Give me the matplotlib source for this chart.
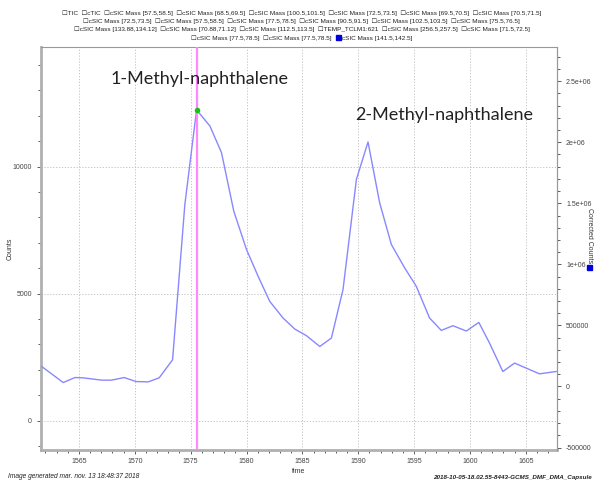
import matplotlib
matplotlib.use("Agg")
import matplotlib.pyplot as plt
from matplotlib.offsetbox import TextArea, HPacker, VPacker, AnchoredOffsetbox, DrawingArea
from matplotlib.patches import Rectangle
from matplotlib.ticker import MultipleLocator

# ---- data ----
time = [1561.66, 1563.59, 1564.64, 1565.38, 1567.03, 1567.92, 1569.05, 1570.10,
        1571.20, 1572.18, 1573.38, 1574.48, 1575.53, 1576.72, 1577.76, 1578.86,
        1580.00, 1581.04, 1582.08, 1583.27, 1584.32, 1585.37, 1586.56, 1587.60,
        1588.64, 1589.84, 1590.88, 1591.92, 1592.97, 1594.16, 1595.20, 1596.39,
        1597.44, 1598.48, 1599.68, 1600.80, 1601.76, 1602.95, 1604.00, 1605.04,
        1606.23, 1607.73]
counts = [2131, 1500, 1697, 1685, 1594, 1594, 1697, 1539,
          1527, 1685, 2395, 8512, 12234, 11602, 10552, 8248,
          6736, 5683, 4696, 4041, 3607, 3343, 2920, 3252,
          5158, 9499, 10971, 8579, 6934, 6014, 5288, 4041,
          3552, 3737, 3528, 3867, 3054, 1934, 2265, 2068,
          1843, 1934]
marker_time = 1575.53
marker_counts = 12234
peak_labels = ["1-Methyl-naphthalene", "2-Methyl-naphthalene"]
peak_label_x = [1575.82, 1597.74]
peak_label_y = [13445, 12025]

legend_line1 = ["TIC", "cTIC", "cSIC Mass [57.5,58.5]", "cSIC Mass [68.5,69.5]",
                "cSIC Mass [100.5,101.5]", "cSIC Mass [72.5,73.5]",
                "cSIC Mass [69.5,70.5]", "cSIC Mass [70.5,71.5]"]
legend_line2 = ["cSIC Mass [72.5,73.5]", "cSIC Mass [57.5,58.5]", "cSIC Mass [77.5,78.5]",
                "cSIC Mass [90.5,91.5]", "cSIC Mass [102.5,103.5]", "cSIC Mass [75.5,76.5]"]
legend_line3 = ["cSIC Mass [133.88,134.12]", "cSIC Mass [70.88,71.12]",
                "cSIC Mass [112.5,113.5]", "TEMP_TCLM1:621",
                "cSIC Mass [256.5,257.5]", "cSIC Mass [71.5,72.5]"]
legend_line4 = ["cSIC Mass [77.5,78.5]", "cSIC Mass [77.5,78.5]"]
legend_selected = "cSIC Mass [141.5,142.5]"

x_ticks = [1565, 1570, 1575, 1580, 1585, 1590, 1595, 1600, 1605]
left_ticks = [0, 5000, 10000]
right_ticks = [-500000, 0, 500000, 1000000, 1500000, 2000000, 2500000]
right_tick_labels = ["-500000", "0", "500000", "1e+06", "1.5e+06", "2e+06", "2.5e+06"]

fam = ["Liberation Sans", "DejaVu Sans"]
plt.rcParams['font.family'] = fam

fig = plt.figure(figsize=(5.95, 4.8), dpi=100)
ax = fig.add_axes([41/595, 1-450/480, (557-41)/595, (450-47)/480])

ax.plot(time, counts, color="#8888ff", lw=1.0, zorder=3)
ax.axvline(marker_time, color="#ff88ff", lw=1.6, zorder=4)
ax.plot([marker_time], [marker_counts], "o", color="#22bb22", ms=3, zorder=5)

for lab, lx, ly in zip(peak_labels, peak_label_x, peak_label_y):
    ax.text(lx, ly, lab, ha="center", va="center", fontsize=13,
            family=["Lato", "DejaVu Sans"], color="#222222", zorder=6)

ax.set_xlim(1561.6, 1607.8)
ax.set_ylim(-1156, 14710)
ax.set_xticks(x_ticks)
ax.set_yticks(left_ticks)
ax.xaxis.set_minor_locator(MultipleLocator(1))
ax.yaxis.set_minor_locator(MultipleLocator(1000))
ax.grid(True, which="major", color="#bbbbbb", ls=(0, (1.5, 2)), lw=0.6)
ax.tick_params(axis="both", which="both", labelsize=5, colors="#444444",
               direction="out", width=0.6)
ax.tick_params(which="major", length=3)
ax.tick_params(which="minor", length=2)
ax.tick_params(axis="x", pad=3)
for s in ["left", "bottom"]:
    ax.spines[s].set_color("#b0b0b0")
    ax.spines[s].set_linewidth(2.0)
for s in ["top", "right"]:
    ax.spines[s].set_color("#999999")
    ax.spines[s].set_linewidth(0.8)
ax.set_xlabel("time", fontsize=5, color="#333333", labelpad=2)
ax.set_ylabel("Counts", fontsize=5, color="#333333")
ax.yaxis.set_label_coords((14-41)/516, 0.5)

ax2 = ax.twinx()
ax2.set_ylim(-520000, 2780000)
ax2.set_yticks(right_ticks)
ax2.set_yticklabels(right_tick_labels)
ax2.yaxis.set_minor_locator(MultipleLocator(100000))
ax2.tick_params(axis="y", which="both", labelsize=5, colors="#444444", width=0.6)
ax2.tick_params(which="major", length=3)
ax2.tick_params(which="minor", length=2)
for s in ax2.spines.values():
    s.set_visible(False)
ax2.spines["right"].set_visible(True)
ax2.spines["right"].set_color("#999999")
ax2.spines["right"].set_linewidth(0.8)

fig.text(589/595, 1-236/480, "Corrected Counts", rotation=270, fontsize=5,
         color="#333333", ha="center", va="center")
fig.patches.append(Rectangle((586.5/595, 1-270/480), 5/595, 5/480,
                             transform=fig.transFigure, color="#0000dd"))

# ---- legend-like header ----
fs = 4.6
def box_items(items, extra=None):
    parts = []
    txt = "  ".join("\u2610" + it for it in items)
    if extra is not None:
        txt += "  "
    parts.append(TextArea(txt, textprops=dict(fontsize=fs, color="#222222", family=fam)))
    if extra is not None:
        da = DrawingArea(3.6, 3.6, 0, 0)
        da.add_artist(Rectangle((0, 0), 3.6, 3.6, color="#0000dd"))
        parts.append(da)
        parts.append(TextArea(extra, textprops=dict(fontsize=fs, color="#222222", family=fam)))
    return HPacker(children=parts, align="baseline", pad=0, sep=0.6)

rows = [box_items(legend_line1), box_items(legend_line2),
        box_items(legend_line3), box_items(legend_line4, legend_selected)]
vp = VPacker(children=rows, align="center", pad=0, sep=1.9)
ab = AnchoredOffsetbox(loc="upper center", child=vp, frameon=False,
                       bbox_to_anchor=(0.507, 1 - 10/480), bbox_transform=fig.transFigure,
                       borderpad=0, pad=0)
fig.add_artist(ab)

fig.text(8/595, 1-477/480, "Image generated mar. nov. 13 18:48:37 2018",
         fontsize=4.8, style="italic", color="#222222", ha="left", va="center")
fig.text(433/595, 1-477/480, "2018-10-05-18.02.55-8443-GCMS_DMF_DMA_Capsule",
         fontsize=4.5, style="italic", weight="bold", color="#222222",
         ha="left", va="center")

fig.savefig("out.png", dpi=100)
